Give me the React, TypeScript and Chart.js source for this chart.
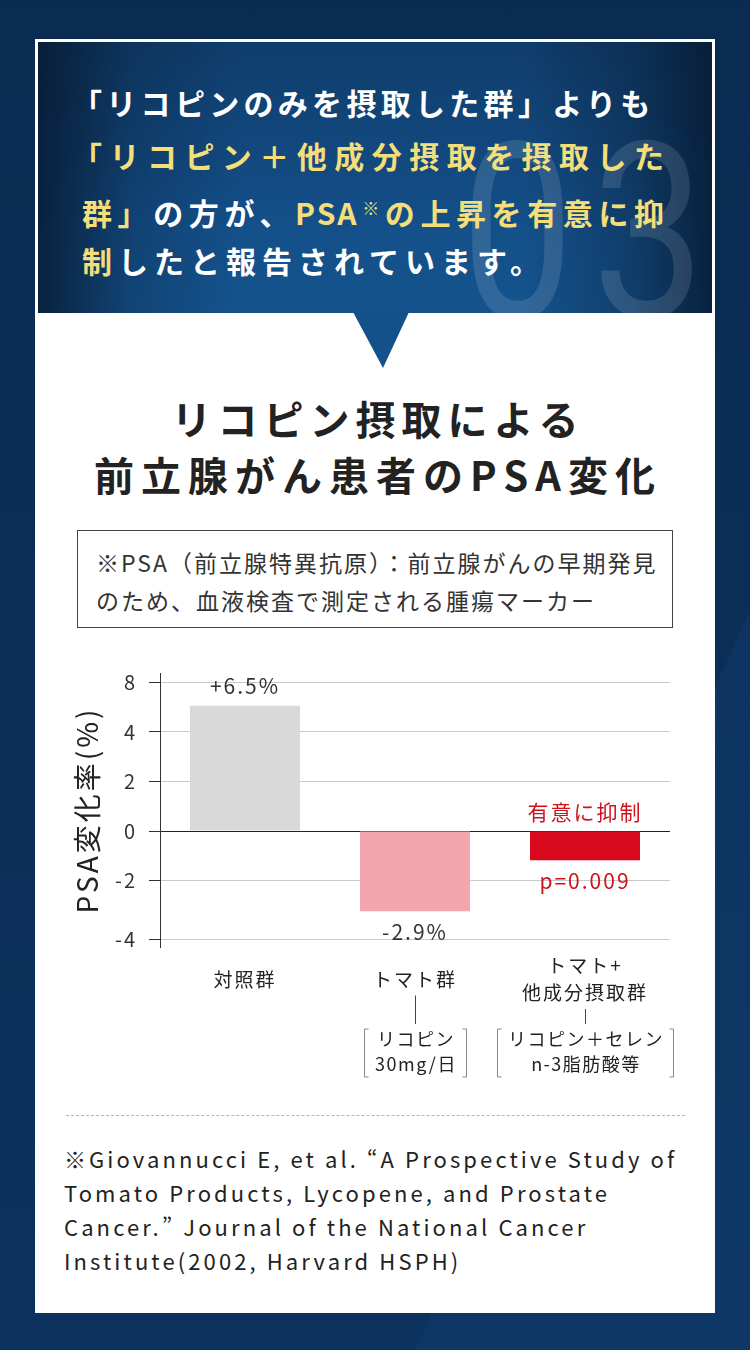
import React, { useEffect, useRef } from 'react';
import { Chart, registerables, LinearScale } from 'chart.js';

// ---------- data ----------
const categories: (string | string[])[] = ['対照群', 'トマト群', ['トマト+', '他成分摂取群']];
const psaChange = [6.1, -3.05, -1.18];
const aboveLabels = ['+6.5%', '', '有意に抑制'];
const belowLabels = ['', '-2.9%', 'p=0.009'];
const doseNotes: string[][] = [[], ['リコピン', '30mg/日'], ['リコピン＋セレン', 'n-3脂肪酸等']];
const yTicks = [8, 4, 2, 0, -2, -4];
const yTitle = 'PSA変化率(%)';

const headline1 = '「リコピンのみを摂取した群」よりも';
const headline2 = '「リコピン＋他成分摂取を摂取した';
const titleLines = ['リコピン摂取による', '前立腺がん患者のPSA変化'];
const noteLines = ['※PSA（前立腺特異抗原）：前立腺がんの早期発見', 'のため、血液検査で測定される腫瘍マーカー'];
const citationLines = [
  '※Giovannucci E, et al. “A Prospective Study of',
  'Tomato Products, Lycopene, and Prostate',
  'Cancer.” Journal of the National Cancer',
  'Institute(2002, Harvard HSPH)',
];

// ---------- styles ----------
const FONT = "'Noto Sans CJK JP', 'Noto Sans', sans-serif";
const barColors = ['#d9d9d9', '#f4a6af', '#d8081d'];
const labelColors = ['#333333', '#333333', '#d0121d'];
const YELLOW = '#f3de79';

// axis break layout (fraction of plot height for each tick value, ascending)
const BREAK_VALUES = [-4, -2, 0, 2, 4, 8];
const BREAK_FRACTIONS = [0.029, 0.243, 0.423, 0.604, 0.785, 0.967];

function interp(v: number, xs: number[], ys: number[]) {
  let i = 0;
  if (v <= xs[0]) i = 0;
  else if (v >= xs[xs.length - 1]) i = xs.length - 2;
  else {
    while (v > xs[i + 1]) i++;
  }
  return ys[i] + ((v - xs[i]) * (ys[i + 1] - ys[i])) / (xs[i + 1] - xs[i]);
}

class PiecewiseScale extends LinearScale {
  static id = 'piecewise';
  static defaults = LinearScale.defaults;
  getPixelForValue(value: any) {
    if (value === null || value === undefined || isNaN(value)) return NaN;
    return this.getPixelForDecimal(interp(+value, BREAK_VALUES, BREAK_FRACTIONS));
  }
  getValueForPixel(pixel: number) {
    return interp(this.getDecimalForPixel(pixel), BREAK_FRACTIONS, BREAK_VALUES);
  }
  drawTitle() {
    const ctx = (this as any).ctx;
    const prev = ctx.letterSpacing;
    ctx.letterSpacing = '3px';
    // @ts-ignore
    super.drawTitle();
    ctx.letterSpacing = prev;
  }
}

Chart.register(...registerables, PiecewiseScale);

const spacingPlugin = {
  id: 'spacing',
  beforeUpdate(chart: any) {
    chart.ctx.letterSpacing = '2px';
  },
  beforeDraw(chart: any) {
    chart.ctx.letterSpacing = '2px';
  },
};

const annotatePlugin = {
  id: 'annotate',
  afterDraw(chart: any) {
    const { ctx, chartArea } = chart;
    const meta = chart.getDatasetMeta(0);
    ctx.save();
    ctx.letterSpacing = '2px';
    ctx.textAlign = 'center';
    ctx.textBaseline = 'middle';
    meta.data.forEach((bar: any, i: number) => {
      const { x, y, base } = bar.getProps(['x', 'y', 'base'], true);
      const top = Math.min(y, base);
      const bottom = Math.max(y, base);
      ctx.fillStyle = labelColors[i];
      ctx.font = `400 21px ${FONT}`;
      if (aboveLabels[i]) ctx.fillText(aboveLabels[i], x, top - 20);
      if (belowLabels[i]) ctx.fillText(belowLabels[i], x, bottom + 21);

      const note = doseNotes[i];
      if (note && note.length) {
        const cat = categories[i];
        const lines = Array.isArray(cat) ? cat.length : 1;
        const labelCenter = chartArea.bottom + 33;
        const connTop = labelCenter + lines * 13.5 + 2;
        const connBottom = chartArea.bottom + 77;
        ctx.strokeStyle = '#444';
        ctx.lineWidth = 1;
        ctx.beginPath();
        ctx.moveTo(Math.round(x) + 0.5, connTop);
        ctx.lineTo(Math.round(x) + 0.5, connBottom);
        ctx.stroke();

        ctx.font = `400 18px ${FONT}`;
        ctx.letterSpacing = '1.5px';
        const w = Math.max(...note.map((t) => ctx.measureText(t).width));
        const half = w / 2 + 10;
        const bTop = chartArea.bottom + 82;
        const bBot = chartArea.bottom + 130;
        const lx = Math.round(x - half) + 0.5;
        const rx = Math.round(x + half) + 0.5;
        ctx.strokeStyle = '#888';
        ctx.beginPath();
        ctx.moveTo(lx + 4, bTop);
        ctx.lineTo(lx, bTop);
        ctx.lineTo(lx, bBot);
        ctx.lineTo(lx + 4, bBot);
        ctx.moveTo(rx - 4, bTop);
        ctx.lineTo(rx, bTop);
        ctx.lineTo(rx, bBot);
        ctx.lineTo(rx - 4, bBot);
        ctx.stroke();
        ctx.fillStyle = '#222';
        note.forEach((t, j) => ctx.fillText(t, x + 1, chartArea.bottom + 92 + j * 25));
        ctx.letterSpacing = '2px';
      }
    });
    ctx.restore();
  },
};

function PsaChart() {
  const ref = useRef<HTMLCanvasElement>(null);
  useEffect(() => {
    if (!ref.current) return;
    Chart.defaults.font.family = FONT;
    const chart = new Chart(ref.current, {
      type: 'bar',
      data: {
        labels: categories as any,
        datasets: [
          {
            data: psaChange,
            backgroundColor: barColors,
            borderWidth: 0,
            barPercentage: 0.647,
            categoryPercentage: 1,
          },
        ],
      },
      options: {
        responsive: false,
        animation: false,
        devicePixelRatio: 1,
        layout: { padding: { top: 33, left: 60, right: 80, bottom: 93 }, autoPadding: false } as any,
        plugins: { legend: { display: false }, tooltip: { enabled: false } },
        scales: {
          x: {
            grid: { display: false, drawTicks: false },
            border: { display: false },
            ticks: {
              color: '#222',
              font: { size: 19, lineHeight: 27 / 19 },
              padding: 19,
              crossAlign: 'center',
              maxRotation: 0,
              minRotation: 0,
              autoSkip: false,
            },
            afterFit: (s: any) => {
              s.height = 60;
            },
          } as any,
          y: {
            type: 'piecewise',
            min: -4.3,
            max: 8.3,
            afterBuildTicks: (s: any) => {
              s.ticks = yTicks.map((v) => ({ value: v }));
            },
            ticks: {
              callback: (v: any) => String(v),
              color: '#333',
              font: { size: 20 },
              padding: 12,
            },
            grid: {
              color: (c: any) => (c.tick && c.tick.value === 0 ? '#222' : '#c9c9c9'),
              tickColor: '#333',
              tickLength: 11,
              lineWidth: 1,
            },
            border: { color: '#333', width: 1 },
            title: {
              display: true,
              text: yTitle,
              color: '#222',
              font: { size: 28 },
              padding: { top: 11, bottom: 0 },
            },
            afterFit: (s: any) => {
              s.width = 100;
            },
          } as any,
        },
      },
      plugins: [spacingPlugin, annotatePlugin],
    });
    return () => chart.destroy();
  }, []);
  return (
    <canvas
      ref={ref}
      width={750}
      height={460}
      style={{ position: 'absolute', left: 0, top: 640, width: 750, height: 460 }}
    />
  );
}

export default function App() {
  const abs = (o: any) => ({ position: 'absolute', ...o }) as React.CSSProperties;
  return (
    <div
      lang="ja"
      style={abs({
        left: 0,
        top: 0,
        width: 750,
        height: 1350,
        overflow: 'hidden',
        background: 'linear-gradient(180deg, #0a2b52 0%, #0c325e 100%)',
        fontFamily: FONT,
      })}
    >
      <svg width={750} height={1350} style={abs({ left: 0, top: 0 })}>
        <polygon points="750,610 750,1350 415,1350" fill="rgba(40,110,180,0.10)" />
      </svg>
      {/* card */}
      <div style={abs({ left: 35, top: 39, width: 680, height: 1274, background: '#fff' })} />
      {/* header */}
      <div
        style={abs({
          left: 38,
          top: 42,
          width: 674,
          height: 271,
          overflow: 'hidden',
          background:
            'linear-gradient(90deg, rgba(7,25,48,0.85) 0%, rgba(7,25,48,0.25) 14%, rgba(7,25,48,0) 30%, rgba(7,25,48,0) 72%, rgba(7,25,48,0.35) 88%, rgba(7,25,48,0.85) 100%), linear-gradient(180deg, #0f3d6c 0%, #14508a 70%, #15538d 100%)',
        })}
      >
        <div
          style={abs({
            left: 423,
            top: 69,
            fontFamily: 'Roboto, sans-serif',
            fontWeight: 400,
            fontSize: 245,
            lineHeight: '245px',
            letterSpacing: 22,
            color: 'rgba(255,255,255,0.12)',
            transform: 'scaleX(0.82)',
            transformOrigin: '0 0',
            whiteSpace: 'nowrap',
          })}
        >
          03
        </div>
        <div
          style={abs({
            left: 34,
            top: 34,
            fontSize: 30,
            fontWeight: 700,
            lineHeight: '52px',
            color: '#fff',
            whiteSpace: 'nowrap',
            letterSpacing: 4.3,
          })}
        >
          {headline1}
        </div>
        <div
          style={abs({
            left: 34,
            top: 87,
            width: 594,
            fontSize: 30,
            fontWeight: 700,
            lineHeight: '52px',
            color: YELLOW,
            letterSpacing: 2,
            textAlign: 'justify',
            textAlignLast: 'justify',
          })}
        >
          {headline2}
        </div>
        <div
          style={abs({
            left: 44,
            top: 140,
            width: 584,
            fontSize: 30,
            fontWeight: 700,
            lineHeight: '52px',
            color: '#fff',
            letterSpacing: 2,
            textAlign: 'justify',
            textAlignLast: 'justify',
          })}
        >
          <span style={{ color: YELLOW }}>群」</span>の方が、
          <span style={{ color: YELLOW }}>
            PSA<span style={{ fontSize: 17, verticalAlign: 10 }}>※</span>の上昇を有意に抑
          </span>
        </div>
        <div
          style={abs({
            left: 44,
            top: 192,
            fontSize: 30,
            fontWeight: 700,
            lineHeight: '52px',
            color: '#fff',
            whiteSpace: 'nowrap',
            letterSpacing: 6,
          })}
        >
          <span style={{ color: YELLOW }}>制</span>したと報告されています。
        </div>
      </div>
      <svg width={750} height={400} style={abs({ left: 0, top: 0 })}>
        <polygon points="353,312 409,312 383,368" fill="#14518a" />
      </svg>
      {/* title */}
      {titleLines.map((t, i) => (
        <div
          key={i}
          style={abs({
            left: 35,
            width: 686,
            top: 390 + i * 56,
            textAlign: 'center',
            fontSize: 40,
            fontWeight: 700,
            lineHeight: '56px',
            letterSpacing: i === 0 ? 6 : 7,
            color: '#222',
            whiteSpace: 'nowrap',
          })}
        >
          {t}
        </div>
      ))}
      {/* note box */}
      <div
        style={abs({
          left: 77,
          top: 530,
          width: 594,
          height: 96,
          border: '1px solid #444',
        })}
      />
      {noteLines.map((t, i) => (
        <div
          key={i}
          style={abs({
            left: 96,
            top: 562 - 19 + i * 37.5,
            fontSize: 23,
            lineHeight: '38px',
            letterSpacing: 2,
            color: '#333',
            whiteSpace: 'nowrap',
          })}
        >
          {t}
        </div>
      ))}
      <PsaChart />
      {/* dashed divider */}
      <div style={abs({ left: 66, top: 1115, width: 619, borderTop: '1px dashed #b5b5b5' })} />
      {citationLines.map((t, i) => (
        <div
          key={i}
          style={abs({
            left: 64,
            top: 1158 - 17 + i * 34,
            fontSize: 22,
            lineHeight: '34px',
            letterSpacing: 3.1,
            color: '#222',
            whiteSpace: 'nowrap',
          })}
        >
          {t}
        </div>
      ))}
    </div>
  );
}
